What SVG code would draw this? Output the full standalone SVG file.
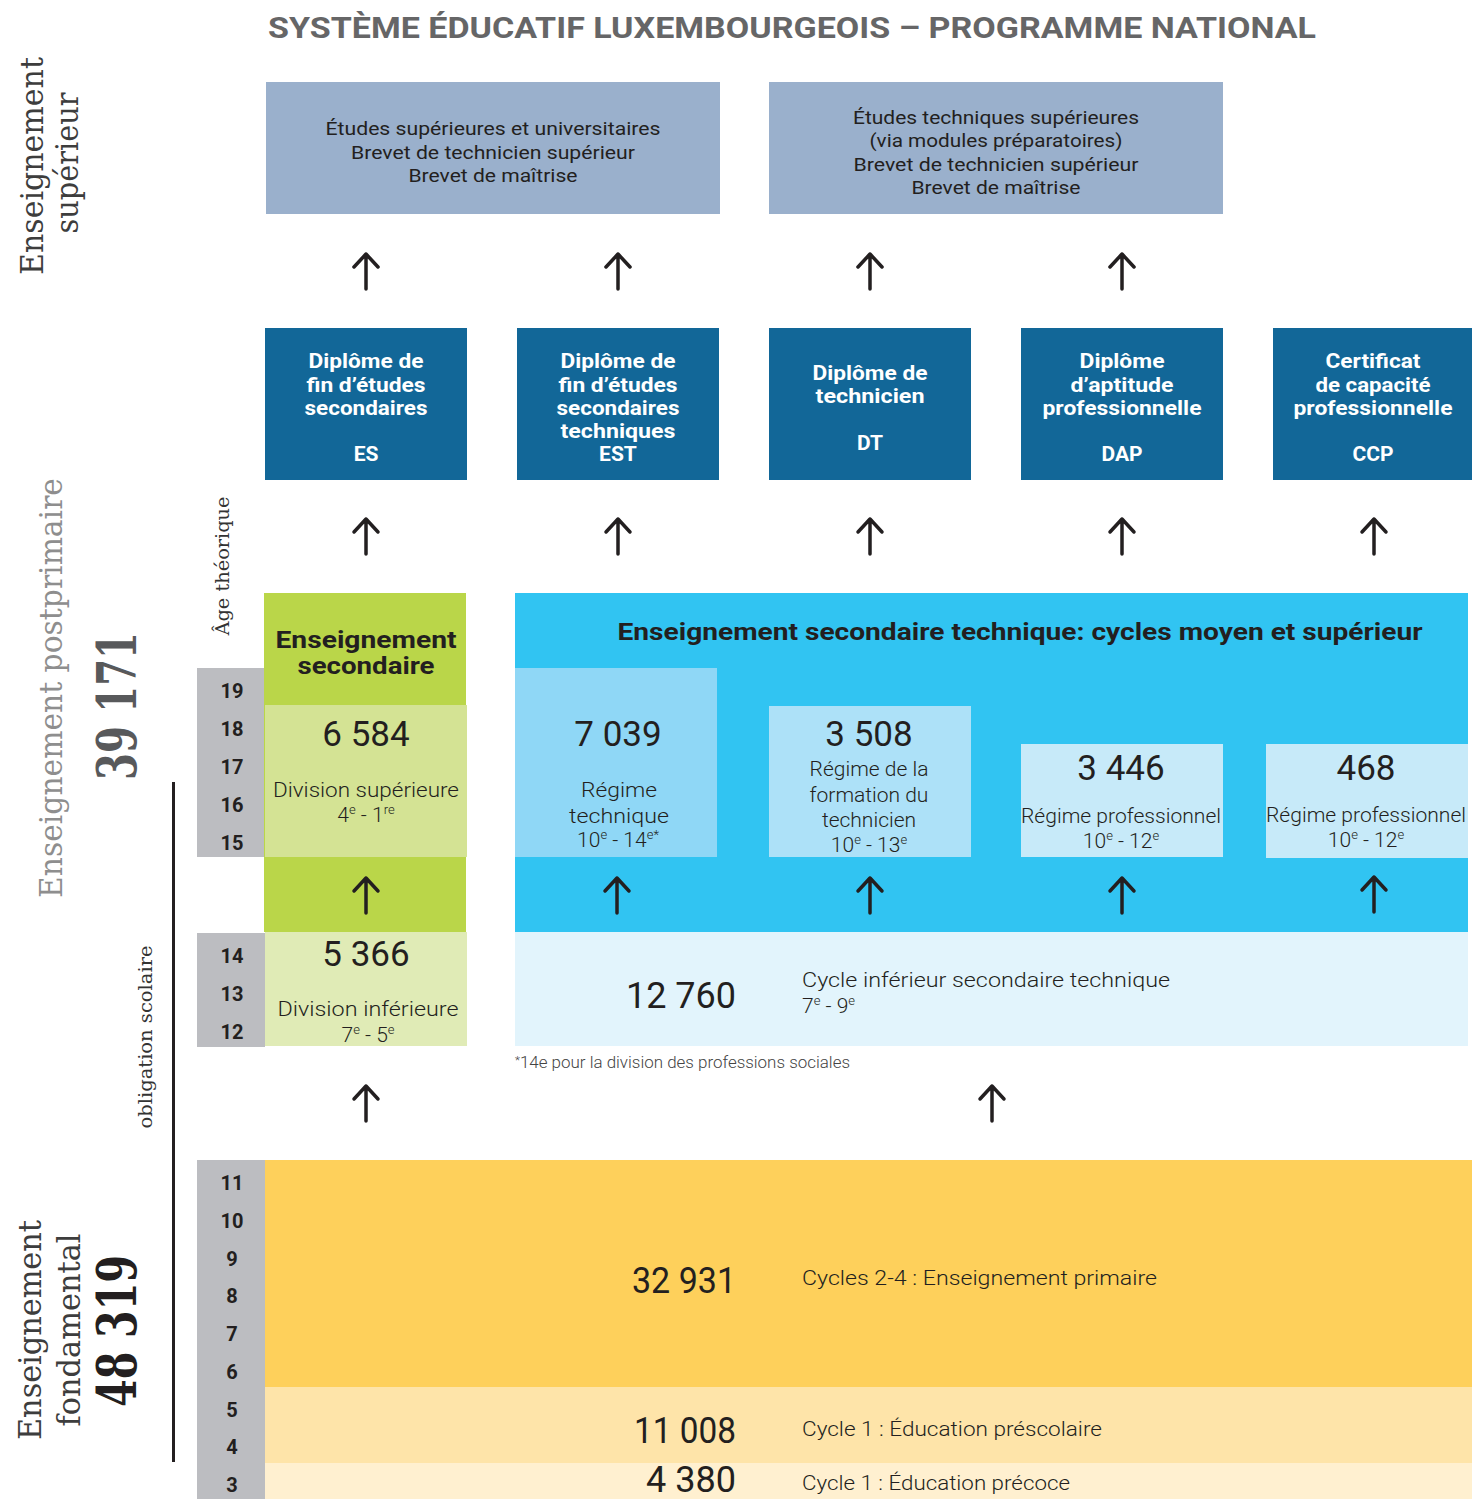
<svg xmlns="http://www.w3.org/2000/svg" width="1472" height="1499" viewBox="0 0 1472 1499">
<defs>
<style>
text{font-family:Roboto,"Liberation Sans",sans-serif;fill:#231f20}
.title{font-size:30px;font-weight:700;fill:#666667}
.up{font-size:19px;font-weight:400;text-anchor:middle}
.dip{font-size:21px;font-weight:700;fill:#fff;text-anchor:middle}
.head{font-size:24px;font-weight:700;text-anchor:middle}
.num{font-size:35px;font-weight:400;text-anchor:middle}
.numr{font-size:36px;font-weight:400;text-anchor:end}
.lbl{font-size:21px;font-weight:300;text-anchor:middle}
.lbll{font-size:21px;font-weight:300}
.age{font-size:20px;font-weight:700;text-anchor:middle}
.side{font-family:"DejaVu Serif","Liberation Serif",serif;font-size:31px;fill:#3d3d3d;text-anchor:middle}
.sidel{font-family:"DejaVu Serif","Liberation Serif",serif;font-size:31px;fill:#8e8e8e;text-anchor:middle}
.big{font-family:"DejaVu Serif","Liberation Serif",serif;font-size:54px;font-weight:700;text-anchor:middle}
.small{font-family:"DejaVu Serif","Liberation Serif",serif;font-size:19px;fill:#333;text-anchor:middle}
.sup{font-size:13px}
.arr{fill:none;stroke:#231f20;stroke-width:3.5;stroke-linecap:round;stroke-linejoin:round}
</style>
</defs>
<rect width="1472" height="1499" fill="#fff"/>

<text class="title" x="268" y="38" textLength="1048" lengthAdjust="spacingAndGlyphs">SYSTÈME ÉDUCATIF LUXEMBOURGEOIS – PROGRAMME NATIONAL</text>

<!-- side labels -->
<g id="side-superieur">
<text class="side" transform="translate(43,166) rotate(-90)" textLength="218" lengthAdjust="spacingAndGlyphs">Enseignement</text>
<text class="side" transform="translate(78,163) rotate(-90)" textLength="141" lengthAdjust="spacingAndGlyphs">supérieur</text>
</g>
<g id="side-postprimaire">
<text class="sidel" transform="translate(62,688) rotate(-90)" textLength="420" lengthAdjust="spacingAndGlyphs">Enseignement postprimaire</text>
<text class="big" style="fill:#58595b" transform="translate(136,706) rotate(-90)" textLength="148" lengthAdjust="spacingAndGlyphs">39 171</text>
</g>
<g id="side-fondamental">
<text class="side" transform="translate(41,1330) rotate(-90)" textLength="220" lengthAdjust="spacingAndGlyphs">Enseignement</text>
<text class="side" transform="translate(80,1330) rotate(-90)" textLength="193" lengthAdjust="spacingAndGlyphs">fondamental</text>
<text class="big" transform="translate(136,1331) rotate(-90)" textLength="152" lengthAdjust="spacingAndGlyphs">48 319</text>
</g>
<g id="obligation">
<line x1="173.5" y1="782" x2="173.5" y2="1462" stroke="#231f20" stroke-width="3"/>
<text class="small" transform="translate(152,1037) rotate(-90)" textLength="183" lengthAdjust="spacingAndGlyphs">obligation scolaire</text>
</g>
<g id="age-label">
<text class="small" transform="translate(229,566) rotate(-90)" textLength="139" lengthAdjust="spacingAndGlyphs">Âge théorique</text>
</g>

<!-- top boxes -->
<g id="sup-universitaires">
<rect x="266" y="82" width="454" height="132" fill="#9ab0cc"/>
<text class="up" x="493" y="135" textLength="335" lengthAdjust="spacingAndGlyphs">Études supérieures et universitaires</text>
<text class="up" x="493" y="159" textLength="284" lengthAdjust="spacingAndGlyphs">Brevet de technicien supérieur</text>
<text class="up" x="493" y="182" textLength="169" lengthAdjust="spacingAndGlyphs">Brevet de maîtrise</text>
</g>
<g id="sup-techniques">
<rect x="769" y="82" width="454" height="132" fill="#9ab0cc"/>
<text class="up" x="996" y="124" textLength="286" lengthAdjust="spacingAndGlyphs">Études techniques supérieures</text>
<text class="up" x="996" y="147" textLength="253" lengthAdjust="spacingAndGlyphs">(via modules préparatoires)</text>
<text class="up" x="996" y="171" textLength="285" lengthAdjust="spacingAndGlyphs">Brevet de technicien supérieur</text>
<text class="up" x="996" y="194" textLength="169" lengthAdjust="spacingAndGlyphs">Brevet de maîtrise</text>
</g>

<!-- diplomas -->
<g id="dip-es">
<rect x="265" y="328" width="202" height="152" fill="#126798"/>
<text class="dip" x="366" y="368" textLength="115" lengthAdjust="spacingAndGlyphs">Diplôme de</text>
<text class="dip" x="366" y="392" textLength="119" lengthAdjust="spacingAndGlyphs">fin d’études</text>
<text class="dip" x="366" y="415" textLength="123" lengthAdjust="spacingAndGlyphs">secondaires</text>
<text class="dip" x="366" y="461">ES</text>
</g>
<g id="dip-est">
<rect x="517" y="328" width="202" height="152" fill="#126798"/>
<text class="dip" x="618" y="368" textLength="115" lengthAdjust="spacingAndGlyphs">Diplôme de</text>
<text class="dip" x="618" y="392" textLength="119" lengthAdjust="spacingAndGlyphs">fin d’études</text>
<text class="dip" x="618" y="415" textLength="123" lengthAdjust="spacingAndGlyphs">secondaires</text>
<text class="dip" x="618" y="438" textLength="115" lengthAdjust="spacingAndGlyphs">techniques</text>
<text class="dip" x="618" y="461">EST</text>
</g>
<g id="dip-dt">
<rect x="769" y="328" width="202" height="152" fill="#126798"/>
<text class="dip" x="870" y="380" textLength="115" lengthAdjust="spacingAndGlyphs">Diplôme de</text>
<text class="dip" x="870" y="403" textLength="109" lengthAdjust="spacingAndGlyphs">technicien</text>
<text class="dip" x="870" y="450">DT</text>
</g>
<g id="dip-dap">
<rect x="1021" y="328" width="202" height="152" fill="#126798"/>
<text class="dip" x="1122" y="368" textLength="85" lengthAdjust="spacingAndGlyphs">Diplôme</text>
<text class="dip" x="1122" y="392" textLength="103" lengthAdjust="spacingAndGlyphs">d’aptitude</text>
<text class="dip" x="1122" y="415" textLength="159" lengthAdjust="spacingAndGlyphs">professionnelle</text>
<text class="dip" x="1122" y="461">DAP</text>
</g>
<g id="dip-ccp">
<rect x="1273" y="328" width="199" height="152" fill="#126798"/>
<text class="dip" x="1373" y="368" textLength="95" lengthAdjust="spacingAndGlyphs">Certificat</text>
<text class="dip" x="1373" y="392" textLength="115" lengthAdjust="spacingAndGlyphs">de capacité</text>
<text class="dip" x="1373" y="415" textLength="159" lengthAdjust="spacingAndGlyphs">professionnelle</text>
<text class="dip" x="1373" y="461">CCP</text>
</g>

<!-- ages -->
<g id="ages">
<rect x="197" y="668" width="68" height="189" fill="#bcbdc1"/>
<rect x="197" y="933" width="68" height="114" fill="#bcbdc1"/>
<rect x="197" y="1160" width="68" height="339" fill="#bcbdc1"/>
<text class="age" x="232" y="698">19</text>
<text class="age" x="232" y="736">18</text>
<text class="age" x="232" y="774">17</text>
<text class="age" x="232" y="812">16</text>
<text class="age" x="232" y="850">15</text>
<text class="age" x="232" y="963">14</text>
<text class="age" x="232" y="1001">13</text>
<text class="age" x="232" y="1039">12</text>
<text class="age" x="232" y="1190">11</text>
<text class="age" x="232" y="1228">10</text>
<text class="age" x="232" y="1266">9</text>
<text class="age" x="232" y="1303">8</text>
<text class="age" x="232" y="1341">7</text>
<text class="age" x="232" y="1379">6</text>
<text class="age" x="232" y="1417">5</text>
<text class="age" x="232" y="1454">4</text>
<text class="age" x="232" y="1492">3</text>
</g>

<!-- secondaire classique -->
<g id="es-header">
<rect x="264" y="593" width="202" height="339" fill="#bad649"/>
<text class="head" x="366" y="648" textLength="181" lengthAdjust="spacingAndGlyphs">Enseignement</text>
<text class="head" x="366" y="674" textLength="137" lengthAdjust="spacingAndGlyphs">secondaire</text>
</g>
<g id="es-superieure">
<rect x="265" y="705" width="202" height="152" fill="#d4e394"/>
<text class="num" x="366" y="746">6 584</text>
<text class="lbl" x="366" y="797" textLength="186" lengthAdjust="spacingAndGlyphs">Division supérieure</text>
<text class="lbl" x="366" y="822">4<tspan class="sup" dy="-8">e</tspan><tspan dy="8"> - 1</tspan><tspan class="sup" dy="-8">re</tspan></text>
</g>
<g id="es-inferieure">
<rect x="265" y="932" width="202" height="114" fill="#e0ebb6"/>
<text class="num" x="366" y="966">5 366</text>
<text class="lbl" x="368" y="1016" textLength="181" lengthAdjust="spacingAndGlyphs">Division inférieure</text>
<text class="lbl" x="368" y="1042">7<tspan class="sup" dy="-8">e</tspan><tspan dy="8"> - 5</tspan><tspan class="sup" dy="-8">e</tspan></text>
</g>

<!-- secondaire technique -->
<g id="est-header">
<rect x="515" y="593" width="953" height="339" fill="#31c4f2"/>
<text class="head" x="1020" y="640" textLength="805" lengthAdjust="spacingAndGlyphs">Enseignement secondaire technique: cycles moyen et supérieur</text>
</g>
<g id="est-technique">
<rect x="515" y="668" width="202" height="189" fill="#8fd7f6"/>
<text class="num" x="618" y="746">7 039</text>
<text class="lbl" x="619" y="797" textLength="76" lengthAdjust="spacingAndGlyphs">Régime</text>
<text class="lbl" x="619" y="823" textLength="100" lengthAdjust="spacingAndGlyphs">technique</text>
<text class="lbl" x="618" y="847">10<tspan class="sup" dy="-8">e</tspan><tspan dy="8"> - 14</tspan><tspan class="sup" dy="-8">e*</tspan></text>
</g>
<g id="est-technicien">
<rect x="769" y="706" width="202" height="151" fill="#ade1f8"/>
<text class="num" x="869" y="746">3 508</text>
<text class="lbl" x="869" y="776">Régime de la</text>
<text class="lbl" x="869" y="802">formation du</text>
<text class="lbl" x="869" y="827">technicien</text>
<text class="lbl" x="869" y="852">10<tspan class="sup" dy="-8">e</tspan><tspan dy="8"> - 13</tspan><tspan class="sup" dy="-8">e</tspan></text>
</g>
<g id="est-professionnel">
<rect x="1021" y="744" width="202" height="113" fill="#c7eaf9"/>
<text class="num" x="1121" y="780">3 446</text>
<text class="lbl" x="1121" y="823" textLength="200" lengthAdjust="spacingAndGlyphs">Régime professionnel</text>
<text class="lbl" x="1121" y="848">10<tspan class="sup" dy="-8">e</tspan><tspan dy="8"> - 12</tspan><tspan class="sup" dy="-8">e</tspan></text>
</g>
<g id="est-ccp">
<rect x="1266" y="744" width="202" height="114" fill="#c7eaf9"/>
<text class="num" x="1366" y="780">468</text>
<text class="lbl" x="1366" y="822" textLength="200" lengthAdjust="spacingAndGlyphs">Régime professionnel</text>
<text class="lbl" x="1366" y="847">10<tspan class="sup" dy="-8">e</tspan><tspan dy="8"> - 12</tspan><tspan class="sup" dy="-8">e</tspan></text>
</g>
<g id="est-inferieur">
<rect x="515" y="932" width="953" height="114" fill="#e2f4fc"/>
<text class="numr" x="736" y="1008">12 760</text>
<text class="lbll" x="802" y="987" textLength="368" lengthAdjust="spacingAndGlyphs">Cycle inférieur secondaire technique</text>
<text class="lbll" x="802" y="1013">7<tspan class="sup" dy="-8">e</tspan><tspan dy="8"> - 9</tspan><tspan class="sup" dy="-8">e</tspan></text>
</g>
<text x="515" y="1068" style="font-size:16px;font-weight:300;fill:#444" textLength="335" lengthAdjust="spacingAndGlyphs"><tspan style="font-size:11px" dy="-4">*</tspan><tspan dy="4">14e pour la division des professions sociales</tspan></text>

<!-- fondamental -->
<g id="primaire">
<rect x="265" y="1160" width="1207" height="227" fill="#fed05b"/>
<text class="numr" x="736" y="1293" textLength="104" lengthAdjust="spacingAndGlyphs">32 931</text>
<text class="lbll" x="802" y="1285" textLength="355" lengthAdjust="spacingAndGlyphs">Cycles 2-4 : Enseignement primaire</text>
</g>
<g id="prescolaire">
<rect x="265" y="1387" width="1207" height="76" fill="#fee4a9"/>
<text class="numr" x="736" y="1443" textLength="102" lengthAdjust="spacingAndGlyphs">11 008</text>
<text class="lbll" x="802" y="1436" textLength="300" lengthAdjust="spacingAndGlyphs">Cycle 1 : Éducation préscolaire</text>
</g>
<g id="precoce">
<rect x="265" y="1463" width="1207" height="36" fill="#fff0d0"/>
<text class="numr" x="736" y="1492" textLength="90" lengthAdjust="spacingAndGlyphs">4 380</text>
<text class="lbll" x="802" y="1490" textLength="268" lengthAdjust="spacingAndGlyphs">Cycle 1 : Éducation précoce</text>
</g>

<!-- connectors -->
<g id="connectors" class="arr">
<path class="arr" d="M366 289V254M354 267L366 254L378 267"/>
<path class="arr" d="M618 289V254M606 267L618 254L630 267"/>
<path class="arr" d="M870 289V254M858 267L870 254L882 267"/>
<path class="arr" d="M1122 289V254M1110 267L1122 254L1134 267"/>
<path class="arr" d="M366 554V519M354 532L366 519L378 532"/>
<path class="arr" d="M618 554V519M606 532L618 519L630 532"/>
<path class="arr" d="M870 554V519M858 532L870 519L882 532"/>
<path class="arr" d="M1122 554V519M1110 532L1122 519L1134 532"/>
<path class="arr" d="M1374 554V519M1362 532L1374 519L1386 532"/>
<path class="arr" d="M366 913V878M354 891L366 878L378 891"/>
<path class="arr" d="M617 913V878M605 891L617 878L629 891"/>
<path class="arr" d="M870 913V878M858 891L870 878L882 891"/>
<path class="arr" d="M1122 913V878M1110 891L1122 878L1134 891"/>
<path class="arr" d="M1374 912V877M1362 890L1374 877L1386 890"/>
<path class="arr" d="M366 1121V1086M354 1099L366 1086L378 1099"/>
<path class="arr" d="M992 1121V1086M980 1099L992 1086L1004 1099"/>
</g>
</svg>
